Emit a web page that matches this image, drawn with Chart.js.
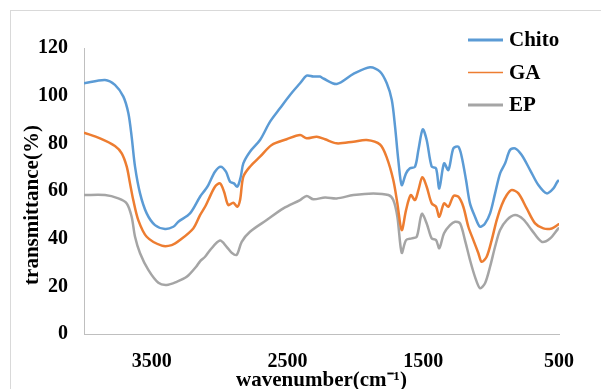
<!DOCTYPE html>
<html lang="en">
<head>
  <meta charset="UTF-8">
  <title>FTIR spectra</title>
  <script src="https://cdn.jsdelivr.net/npm/chart.js"></script>
  <style>
    html, body {
      margin: 0;
      padding: 0;
      background: #fff;
    }
    #wrap {
      width: 601px;
      height: 389px;
    }
  </style>
</head>
<body>
  <div id="wrap"><canvas id="ftir" width="601" height="389"></canvas></div>

  <script>
    const seriesNames = ['Chito', 'GA', 'EP'];
    const seriesColors = ['#5B9BD5', '#ED7D31', '#A5A5A5'];
    const xTicks = [500, 1500, 2500, 3500];

    // Chito
    const chitoWn = [4000, 3845, 3772, 3710, 3673, 3649, 3624, 3587, 3538, 3477, 3403, 3342, 3305, 3219, 3145, 3108, 3084, 3035, 2993, 2954, 2924, 2895, 2870, 2845, 2826, 2777, 2703, 2629, 2556, 2482, 2408, 2359, 2310, 2261, 2236, 2138, 2015, 1892, 1819, 1769, 1732, 1708, 1684, 1659, 1627, 1598, 1561, 1536, 1504, 1475, 1438, 1406, 1382, 1347, 1315, 1278, 1242, 1217, 1185, 1156, 1119, 1082, 1045, 1008, 971, 934, 897, 861, 824, 775, 713, 652, 590, 541, 512, 500];
    const chitoT = [105.2, 106.6, 104.5, 99.6, 92.6, 82.8, 70.2, 59, 50.6, 45.7, 44.1, 45, 47.1, 50.6, 57.6, 60.4, 62.5, 68.1, 70.2, 68.1, 63.9, 63.2, 61.8, 66, 71.6, 76.5, 81.4, 89.1, 94.7, 100.3, 105.2, 108.4, 108, 108, 107.2, 104.9, 109.1, 111.9, 110.1, 105.2, 98.2, 87, 73, 62.5, 67.4, 69.5, 70.2, 77.2, 85.9, 81.4, 70.2, 69.5, 61.1, 71.6, 68.8, 77.9, 78.6, 74.4, 64.6, 54.8, 49.2, 45, 46.4, 50.6, 59, 67.4, 71.6, 77.2, 77.9, 75.1, 68.8, 62.5, 59, 61.1, 63.9, 64.6];

    // GA
    const gaWn = [4000, 3882, 3772, 3722, 3685, 3661, 3637, 3600, 3538, 3427, 3354, 3293, 3195, 3145, 3108, 3084, 3035, 2998, 2968, 2937, 2900, 2870, 2850, 2826, 2777, 2703, 2617, 2507, 2408, 2359, 2285, 2224, 2138, 2015, 1917, 1819, 1769, 1721, 1691, 1659, 1627, 1593, 1561, 1536, 1507, 1475, 1438, 1406, 1382, 1347, 1315, 1278, 1242, 1205, 1168, 1131, 1094, 1070, 1033, 996, 959, 922, 885, 848, 799, 738, 676, 615, 553, 504, 500];
    const gaT = [84.5, 82.1, 78.9, 75.8, 70.2, 63.2, 56.2, 47.8, 40.8, 37.1, 37.3, 39.4, 44.3, 49.9, 53.4, 56.2, 61.8, 63.2, 59.7, 54.1, 55.1, 53.4, 56.2, 66, 70.2, 74.4, 79.3, 81.7, 83.5, 82.1, 82.8, 81.7, 80, 80.7, 81.4, 79.5, 74, 64.6, 54.8, 43.6, 52, 58.3, 56.2, 60.4, 65.8, 61.8, 54.8, 53.4, 49.2, 54.8, 53.4, 57.9, 57.6, 53.4, 45, 39.4, 33.9, 30.3, 32.4, 39.4, 47.8, 54.1, 58.3, 60.4, 59, 52.7, 46.4, 44.3, 44.3, 46, 46];

    // EP
    const epWn = [4000, 3845, 3747, 3685, 3649, 3624, 3587, 3526, 3452, 3391, 3317, 3243, 3170, 3145, 3108, 3071, 2998, 2949, 2912, 2875, 2838, 2777, 2654, 2531, 2408, 2359, 2310, 2224, 2138, 2015, 1868, 1757, 1721, 1691, 1659, 1627, 1585, 1548, 1511, 1475, 1438, 1406, 1382, 1347, 1303, 1266, 1229, 1193, 1156, 1119, 1082, 1045, 1008, 971, 934, 885, 824, 763, 701, 627, 566, 504, 500];
    const epT = [58.3, 58.3, 56.9, 54.8, 49.2, 40.8, 33.9, 26.9, 21.5, 20.6, 21.9, 24, 28.5, 30.5, 32.4, 35.2, 39.2, 36.6, 34.1, 33.2, 38.7, 42.9, 47.8, 52.7, 56.2, 57.9, 56.5, 57.3, 56.9, 58.3, 59, 58.3, 56.2, 49.2, 34.1, 39.4, 40.1, 40.8, 50.4, 46.4, 40.1, 39.4, 36, 42.3, 45.7, 47.1, 46.4, 39.4, 31.1, 24, 19.2, 21.3, 28.2, 36.6, 43.6, 47.8, 49.9, 48.1, 43.6, 38.7, 40.1, 44.3, 44];

    const serif = 'Liberation Serif, Times New Roman, serif';

    function toPoints(wn, t) {
      return wn.map((w, i) => ({ x: w, y: t[i] }));
    }

    // white background + light frame
    const framePlugin = {
      id: 'frame',
      beforeDraw(chart) {
        const ctx = chart.ctx;
        ctx.save();
        ctx.fillStyle = '#fff';
        ctx.fillRect(0, 0, chart.width, chart.height);
        ctx.strokeStyle = '#D9D9D9';
        ctx.lineWidth = 1;
        ctx.strokeRect(10.5, 10.5, 700, 500);
        ctx.restore();
      }
    };

    // axis titles and legend, placed like the original
    const textPlugin = {
      id: 'texts',
      afterDraw(chart) {
        const ctx = chart.ctx;
        const area = chart.chartArea;
        ctx.save();
        ctx.fillStyle = '#000';
        ctx.font = 'bold 21px ' + serif;
        ctx.textAlign = 'center';
        ctx.textBaseline = 'alphabetic';
        ctx.fillText('wavenumber(cm⁻¹)', (area.left + area.right) / 2, 386);

        ctx.translate(33, 205);
        ctx.rotate(-Math.PI / 2);
        ctx.textBaseline = 'middle';
        ctx.fillText('transmittance(%)', 0, 0);
        ctx.restore();

        ctx.save();
        ctx.font = 'bold 21px ' + serif;
        ctx.textAlign = 'left';
        ctx.textBaseline = 'middle';
        seriesNames.forEach((name, i) => {
          const y = 40 + i * 32.5;
          ctx.strokeStyle = seriesColors[i];
          ctx.lineWidth = i === 1 ? 1.5 : 3;
          ctx.beginPath();
          ctx.moveTo(468, y);
          ctx.lineTo(503, y);
          ctx.stroke();
          ctx.fillStyle = '#000';
          ctx.fillText(name, 509, y + 1);
        });
        ctx.restore();
      }
    };

    const ctx = document.getElementById('ftir').getContext('2d');

    new Chart(ctx, {
      type: 'line',
      data: {
        datasets: [
          { label: seriesNames[0], data: toPoints(chitoWn, chitoT), borderColor: seriesColors[0] },
          { label: seriesNames[1], data: toPoints(gaWn, gaT), borderColor: seriesColors[1] },
          { label: seriesNames[2], data: toPoints(epWn, epT), borderColor: seriesColors[2] }
        ]
      },
      options: {
        responsive: false,
        animation: false,
        devicePixelRatio: 1,
        layout: { padding: { top: 48, right: 42, bottom: 0, left: 0 } },
        elements: {
          point: { radius: 0 },
          line: { borderWidth: 2.5, tension: 0.3, fill: false }
        },
        plugins: {
          legend: { display: false },
          tooltip: { enabled: false }
        },
        scales: {
          x: {
            type: 'linear',
            reverse: true,
            min: 500,
            max: 4000,
            afterBuildTicks: (scale) => {
              scale.ticks = xTicks.map((v) => ({ value: v }));
            },
            afterFit: (scale) => { scale.height = 55; },
            grid: { display: false, drawTicks: false },
            border: { display: true, color: '#BFBFBF', width: 1 },
            ticks: {
              color: '#000',
              padding: 16,
              maxRotation: 0,
              callback: (v) => String(v),
              font: { family: serif, size: 20, weight: 'bold' }
            }
          },
          y: {
            min: 0,
            max: 120,
            afterFit: (scale) => { scale.width = 84; },
            grid: { display: false, drawTicks: false },
            border: { display: true, color: '#BFBFBF', width: 1 },
            ticks: {
              stepSize: 20,
              color: '#000',
              padding: 16,
              font: { family: serif, size: 20, weight: 'bold' }
            }
          }
        }
      },
      plugins: [framePlugin, textPlugin]
    });
  </script>
</body>
</html>
